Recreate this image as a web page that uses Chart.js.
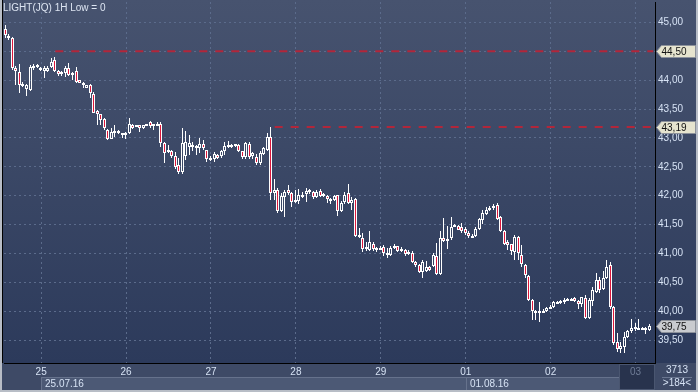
<!DOCTYPE html>
<html>
<head>
<meta charset="utf-8">
<script src="https://cdn.jsdelivr.net/npm/chart.js@4/dist/chart.umd.min.js"></script>
<style>
  html, body { margin: 0; padding: 0; background: #2c3a5b; }
  #wrap { position: relative; width: 698px; height: 392px; }
</style>
</head>
<body>
<div id="wrap"><canvas id="chart" width="698" height="392"></canvas></div>
<script>
'use strict';

// hourly candles, 24 per day, first day label sits on bar 10
const dayLabels = ['25', '26', '27', '28', '29', '01', '02', '03'];
const firstDayIndex = 10;
const barsPerDay = 24;
const dateLabels = ['25.07.16', '01.08.16'];
const dateDayIndex = [0, 5];

const opens = [
  44.89, 44.77, 44.73, 44.22, 44.14, 43.94, 43.85, 43.83, 44.22, 44.23,
  44.22, 44.16, 44.16, 44.23, 44.35, 44.16, 44.15, 44.12, 44.22, 44.10,
  44.16, 44.00, 43.96, 43.87, 43.92, 43.77, 43.47, 43.41, 43.33, 43.14,
  42.99, 43.08, 43.12, 43.05, 43.05, 43.08, 43.22, 43.20, 43.22, 43.17,
  43.21, 43.27, 43.21, 43.22, 43.24, 42.91, 42.77, 42.78, 42.69, 42.53,
  42.41, 42.68, 42.85, 42.88, 42.82, 42.82, 42.90, 42.79, 42.64, 42.63,
  42.70, 42.69, 42.77, 42.84, 42.86, 42.86, 42.88, 42.77, 42.67, 42.90,
  42.68, 42.67, 42.57, 42.73, 42.80, 43.02, 42.05, 42.09, 41.74, 41.98,
  42.10, 42.05, 41.89, 41.91, 42.00, 42.03, 42.06, 42.07, 41.98, 42.08,
  42.02, 42.00, 41.95, 41.92, 42.01, 41.74, 41.89, 42.04, 41.88, 41.94,
  41.32, 41.27, 41.10, 41.06, 41.17, 41.07, 41.08, 41.11, 41.00, 40.98,
  41.10, 41.12, 41.04, 41.06, 41.00, 41.01, 40.85, 40.80, 40.68, 40.70,
  40.76, 40.78, 40.95, 40.65, 41.27, 41.22, 41.26, 41.47, 41.47, 41.46,
  41.42, 41.36, 41.30, 41.30, 41.42, 41.58, 41.69, 41.76, 41.78, 41.84,
  41.63, 41.39, 41.19, 41.16, 41.03, 41.29, 40.98, 40.80, 40.61, 40.19,
  40.00, 39.98, 39.99, 40.00, 40.05, 40.07, 40.14, 40.14, 40.17, 40.20,
  40.20, 40.22, 40.17, 40.13, 40.23, 39.88, 40.17, 40.34, 40.54, 40.38,
  40.57, 40.80, 40.07, 39.46, 39.35, 39.38, 39.55, 39.65, 39.73, 39.71,
  39.70, 39.71, 39.68, null
];
const highs = [
  44.96, 44.80, 44.75, 44.24, 44.28, 43.97, 43.94, 44.26, 44.28, 44.28,
  44.23, 44.24, 44.24, 44.38, 44.40, 44.18, 44.16, 44.24, 44.30, 44.15,
  44.23, 44.01, 43.97, 43.92, 43.93, 43.79, 43.48, 43.42, 43.34, 43.16,
  43.17, 43.22, 43.14, 43.09, 43.10, 43.34, 43.25, 43.23, 43.23, 43.23,
  43.25, 43.29, 43.25, 43.27, 43.27, 42.93, 42.87, 42.80, 42.76, 42.65,
  43.17, 43.12, 43.05, 42.93, 42.88, 43.00, 42.97, 42.80, 42.68, 42.75,
  42.72, 42.79, 42.93, 42.95, 42.90, 42.90, 42.89, 42.78, 42.93, 42.93,
  42.76, 42.72, 42.77, 42.84, 43.09, 43.19, 42.29, 42.13, 42.05, 42.10,
  42.19, 42.07, 42.10, 42.12, 42.07, 42.13, 42.11, 42.08, 42.09, 42.12,
  42.05, 42.01, 41.96, 42.02, 42.02, 41.90, 42.07, 42.20, 41.98, 41.96,
  41.44, 41.35, 41.20, 41.38, 41.20, 41.11, 41.13, 41.14, 41.09, 41.12,
  41.17, 41.13, 41.11, 41.08, 41.06, 41.05, 40.87, 40.82, 40.88, 40.87,
  40.78, 41.00, 41.18, 41.39, 41.61, 41.48, 41.63, 41.51, 41.49, 41.53,
  41.45, 41.38, 41.33, 41.46, 41.62, 41.75, 41.80, 41.83, 41.86, 41.87,
  41.65, 41.40, 41.23, 41.17, 41.32, 41.31, 41.14, 40.82, 40.63, 40.21,
  40.02, 40.16, 40.03, 40.08, 40.10, 40.17, 40.18, 40.20, 40.22, 40.22,
  40.22, 40.24, 40.20, 40.25, 40.28, 40.22, 40.41, 40.66, 40.60, 40.70,
  40.88, 40.86, 40.09, 39.62, 39.46, 39.64, 39.68, 39.86, 39.80, 39.86,
  39.73, 39.73, 39.78, null
];
const lows = [
  44.73, 44.70, 44.18, 43.92, 43.78, 43.88, 43.73, 43.82, 44.18, 44.22,
  44.16, 44.03, 44.14, 44.22, 44.14, 44.08, 44.07, 44.06, 44.08, 44.00,
  43.96, 43.95, 43.86, 43.86, 43.69, 43.43, 43.22, 43.22, 43.14, 42.96,
  42.98, 43.02, 43.06, 43.00, 42.99, 43.07, 43.15, 43.19, 43.10, 43.16,
  43.20, 43.17, 43.14, 43.21, 42.85, 42.57, 42.74, 42.66, 42.47, 42.38,
  42.38, 42.62, 42.70, 42.78, 42.70, 42.74, 42.80, 42.59, 42.60, 42.58,
  42.63, 42.66, 42.71, 42.82, 42.82, 42.84, 42.76, 42.64, 42.64, 42.64,
  42.64, 42.53, 42.53, 42.70, 42.78, 41.92, 41.92, 41.70, 41.72, 41.63,
  42.02, 41.81, 41.87, 41.86, 41.96, 41.89, 42.03, 41.95, 41.96, 41.98,
  41.98, 41.87, 41.86, 41.90, 41.65, 41.71, 41.86, 41.86, 41.75, 41.29,
  41.27, 41.03, 41.04, 41.04, 41.05, 41.03, 41.06, 40.95, 40.92, 40.96,
  41.08, 41.03, 41.02, 40.95, 40.98, 40.84, 40.77, 40.66, 40.57, 40.68,
  40.69, 40.76, 40.63, 40.62, 41.19, 41.07, 41.24, 41.45, 41.40, 41.36,
  41.32, 41.26, 41.28, 41.28, 41.40, 41.51, 41.67, 41.73, 41.76, 41.58,
  41.37, 41.15, 41.06, 40.97, 40.88, 40.88, 40.77, 40.57, 40.18, 39.84,
  39.85, 39.81, 39.97, 39.99, 40.04, 40.05, 40.13, 40.12, 40.12, 40.19,
  40.18, 40.16, 40.03, 40.07, 39.86, 39.86, 40.09, 40.31, 40.31, 40.36,
  40.55, 40.04, 39.41, 39.30, 39.27, 39.28, 39.53, 39.62, 39.66, 39.69,
  39.69, 39.60, 39.66, null
];
const closes = [
  44.78, 44.73, 44.22, 44.16, 43.92, 43.91, 43.92, 44.23, 44.25, 44.26,
  44.17, 44.22, 44.22, 44.32, 44.16, 44.10, 44.10, 44.22, 44.09, 44.13,
  43.97, 43.96, 43.92, 43.91, 43.78, 43.44, 43.41, 43.31, 43.17, 42.99,
  43.11, 43.12, 43.08, 43.08, 43.08, 43.24, 43.17, 43.22, 43.18, 43.22,
  43.24, 43.21, 43.24, 43.25, 42.91, 42.74, 42.79, 42.69, 42.50, 42.41,
  42.91, 42.93, 42.92, 42.84, 42.86, 42.90, 42.82, 42.63, 42.66, 42.72,
  42.65, 42.77, 42.86, 42.88, 42.88, 42.89, 42.77, 42.67, 42.91, 42.67,
  42.74, 42.57, 42.74, 42.82, 43.01, 42.05, 42.09, 41.74, 42.00, 42.07,
  42.04, 41.89, 41.92, 42.01, 42.02, 42.08, 42.09, 41.97, 42.06, 42.00,
  42.03, 41.94, 41.90, 42.00, 41.74, 41.88, 42.02, 41.88, 41.92, 41.30,
  41.29, 41.08, 41.11, 41.20, 41.07, 41.09, 41.10, 41.00, 40.97, 41.10,
  41.13, 41.05, 41.08, 40.99, 41.03, 40.85, 40.80, 40.68, 40.86, 40.77,
  40.71, 40.97, 40.65, 41.26, 41.21, 41.25, 41.46, 41.49, 41.41, 41.38,
  41.35, 41.31, 41.31, 41.43, 41.59, 41.70, 41.76, 41.78, 41.83, 41.60,
  41.39, 41.16, 41.14, 41.04, 41.29, 41.00, 40.81, 40.63, 40.19, 40.00,
  39.96, 40.01, 40.01, 40.05, 40.07, 40.15, 40.16, 40.18, 40.20, 40.21,
  40.21, 40.17, 40.13, 40.24, 39.88, 40.19, 40.37, 40.54, 40.37, 40.57,
  40.77, 40.07, 39.44, 39.34, 39.39, 39.56, 39.65, 39.70, 39.70, 39.70,
  39.71, 39.70, 39.75, null
];

// horizontal levels drawn from a given bar to the right edge
const levelValues = [44.50, 43.19];
const levelStart = [14, 76];
const lastPrice = 39.75;
const barCountText = '3713';
const visibleText = '>184<';

const labels = opens.map((_, i) => {
  const k = (i - firstDayIndex) / barsPerDay;
  return Number.isInteger(k) && k >= 0 ? dayLabels[k] : '';
});
const isDayTick = (i) => i >= firstDayIndex && (i - firstDayIndex) % barsPerDay === 0;

const bodies = opens.map((o, i) => o == null ? null : [Math.min(o, closes[i]), Math.max(o, closes[i])]);
const upperWicks = opens.map((o, i) => o == null ? null : [Math.max(o, closes[i]), highs[i]]);
const lowerWicks = opens.map((o, i) => o == null ? null : [lows[i], Math.min(o, closes[i])]);
const bodyFill = opens.map((o, i) => (o != null && closes[i] < o) ? '#dc173b' : 'rgba(0,0,0,0)');
const levelData = levelValues.map((v, k) => opens.map((_, i) => i >= levelStart[k] ? v : null));

const fmt = (v) => v.toFixed(2).replace('.', ',');
const TEXT = '#d6e2f4';
const FONT = '"Liberation Sans", Arial, sans-serif';
Chart.defaults.font.family = FONT;
Chart.defaults.font.size = 10;

// keep candle edges on whole pixels so hollow bodies stay crisp
const snapBars = {
  id: 'snapBars',
  afterDatasetsUpdate(chart) {
    chart.data.datasets.forEach((ds, di) => {
      if (ds.type === 'line') return;
      chart.getDatasetMeta(di).data.forEach(el => {
        if (el.skip) return;
        const half = el.width / 2;
        el.x = Math.floor(el.x - half) + half;
        let top = Math.round(Math.min(el.y, el.base));
        let bot = Math.round(Math.max(el.y, el.base));
        if (ds.label === 'body' && bot - top < 2) bot = top + 2;
        el.y = top;
        el.base = bot;
      });
    });
  }
};

const decor = {
  id: 'decor',
  beforeDraw(chart) {
    const { ctx, chartArea: a, scales: { x } } = chart;
    const W = chart.width, H = chart.height;
    ctx.save();
    const g = ctx.createLinearGradient(0, 0, 0, a.bottom);
    g.addColorStop(0, '#47536f');
    g.addColorStop(1, '#2c3a5b');
    ctx.fillStyle = g;
    ctx.fillRect(0, 0, W, a.bottom);
    // time axis strip
    ctx.fillStyle = '#3e4a66';
    ctx.fillRect(0, a.bottom, W, H - a.bottom);
    // date boxes
    const dateTop = 377, dateBot = 390;
    const cur = x.getPixelForValue(firstDayIndex + barsPerDay * (dayLabels.length - 1)) - 17;
    dateDayIndex.forEach((d, k) => {
      const x0 = x.getPixelForValue(firstDayIndex + barsPerDay * d);
      const x1 = k + 1 < dateDayIndex.length ? x.getPixelForValue(firstDayIndex + barsPerDay * dateDayIndex[k + 1]) : cur;
      ctx.fillStyle = '#4c5975';
      ctx.fillRect(Math.round(x0), dateTop, Math.round(x1 - x0), dateBot - dateTop);
      ctx.fillStyle = '#66728c';
      ctx.fillRect(Math.round(x0), dateTop, Math.round(x1 - x0), 1);
      ctx.fillRect(Math.round(x0), dateTop, 1, dateBot - dateTop);
      ctx.fillStyle = TEXT;
      ctx.font = '10px ' + FONT;
      ctx.textBaseline = 'middle';
      ctx.textAlign = 'left';
      ctx.fillText(dateLabels[k], Math.round(x0) + 4, dateTop + 7);
    });
    // current day box
    ctx.fillStyle = '#28334d';
    ctx.fillRect(Math.round(cur), a.bottom + 1, a.right - Math.round(cur), 390 - a.bottom - 1);
    ctx.strokeStyle = '#4a5670';
    ctx.strokeRect(Math.round(cur) + 0.5, a.bottom + 1.5, a.right - Math.round(cur) - 1, 390 - a.bottom - 2);
    ctx.restore();
  },
  afterDraw(chart) {
    const { ctx, chartArea: a, scales: { y } } = chart;
    ctx.save();
    ctx.font = '10px ' + FONT;
    ctx.textBaseline = 'top';
    ctx.textAlign = 'left';
    ctx.fillStyle = '#dde5f2';
    ctx.fillText('LIGHT(JQ) 1H Low = 0', 3, 3);

    const tag = (v, fill) => {
      const yc = Math.round(y.getPixelForValue(v)) + 0.5;
      const x0 = 656.5, x1 = 695.5, h = 6;
      ctx.beginPath();
      ctx.moveTo(x0, yc);
      ctx.lineTo(x0 + 5, yc - h);
      ctx.lineTo(x1, yc - h);
      ctx.lineTo(x1, yc + h);
      ctx.lineTo(x0 + 5, yc + h);
      ctx.closePath();
      ctx.fillStyle = fill;
      ctx.fill();
      ctx.strokeStyle = '#8d929b';
      ctx.lineWidth = 1;
      ctx.stroke();
      ctx.fillStyle = '#111';
      ctx.textBaseline = 'middle';
      ctx.fillText(fmt(v), x0 + 5, yc + 0.5);
    };
    levelValues.forEach(v => tag(v, '#e6e4cf'));
    tag(lastPrice, '#c9cbcf');

    // bar counters in the corner
    ctx.fillStyle = TEXT;
    ctx.textAlign = 'center';
    ctx.textBaseline = 'middle';
    ctx.fillText(barCountText, 677, 370);
    ctx.fillText(visibleText, 677, 383);
    ctx.fillStyle = '#6a7690';
    ctx.fillRect(662, 377, 30, 1);

    // outer frame
    ctx.fillStyle = '#b8bdc6';
    ctx.fillRect(0, 0, 2, chart.height);
    ctx.fillRect(chart.width - 2, 0, 2, chart.height);
    ctx.fillRect(0, chart.height - 2, chart.width, 2);
    ctx.fillStyle = '#000';
    ctx.fillRect(2, 0, 1, a.bottom);
    ctx.restore();
  }
};

const gridColor = '#5b6b8b';

new Chart(document.getElementById('chart'), {
  type: 'bar',
  data: {
    labels,
    datasets: [
      { label: 'body', data: bodies, backgroundColor: bodyFill, borderColor: '#ffffff', borderWidth: 1,
        borderSkipped: false, barThickness: 3, grouped: false, inflateAmount: 0 },
      { label: 'upper', data: upperWicks, backgroundColor: '#ffffff', barThickness: 1, grouped: false, inflateAmount: 0 },
      { label: 'lower', data: lowerWicks, backgroundColor: '#ffffff', barThickness: 1, grouped: false, inflateAmount: 0 },
      ...levelData.map(d => ({
        type: 'line', data: d, borderColor: '#b2263a', borderWidth: 2, borderDash: [8, 8],
        pointRadius: 0, fill: false
      }))
    ]
  },
  options: {
    responsive: false,
    animation: false,
    devicePixelRatio: 1,
    layout: { padding: { left: 4, top: 2, right: 0, bottom: 0 } },
    plugins: { legend: { display: false }, tooltip: { enabled: false } },
    scales: {
      x: {
        grid: {
          offset: false,
          drawTicks: false,
          color: (c) => isDayTick(c.index) ? gridColor : 'rgba(0,0,0,0)'
        },
        border: { color: '#000000', width: 1, dash: [2, 3] },
        ticks: {
          autoSkip: false, maxRotation: 0, minRotation: 0, padding: 3,
          color: (c) => c.index === firstDayIndex + barsPerDay * (dayLabels.length - 1) ? '#6f7c96' : TEXT
        },
        afterFit(s) { s.height = 29; s.paddingLeft = 0; s.paddingRight = 0; }
      },
      y: {
        position: 'right',
        min: 39.102,
        max: 45.355,
        grid: { color: gridColor, drawTicks: false },
        border: { color: '#000000', width: 1, dash: [2, 3] },
        ticks: { stepSize: 0.5, includeBounds: false, padding: 3, color: TEXT, callback: (v) => fmt(v) },
        afterFit(s) { s.width = 43; s.paddingTop = 0; s.paddingBottom = 0; }
      }
    }
  },
  plugins: [snapBars, decor]
});
</script>
</body>
</html>
